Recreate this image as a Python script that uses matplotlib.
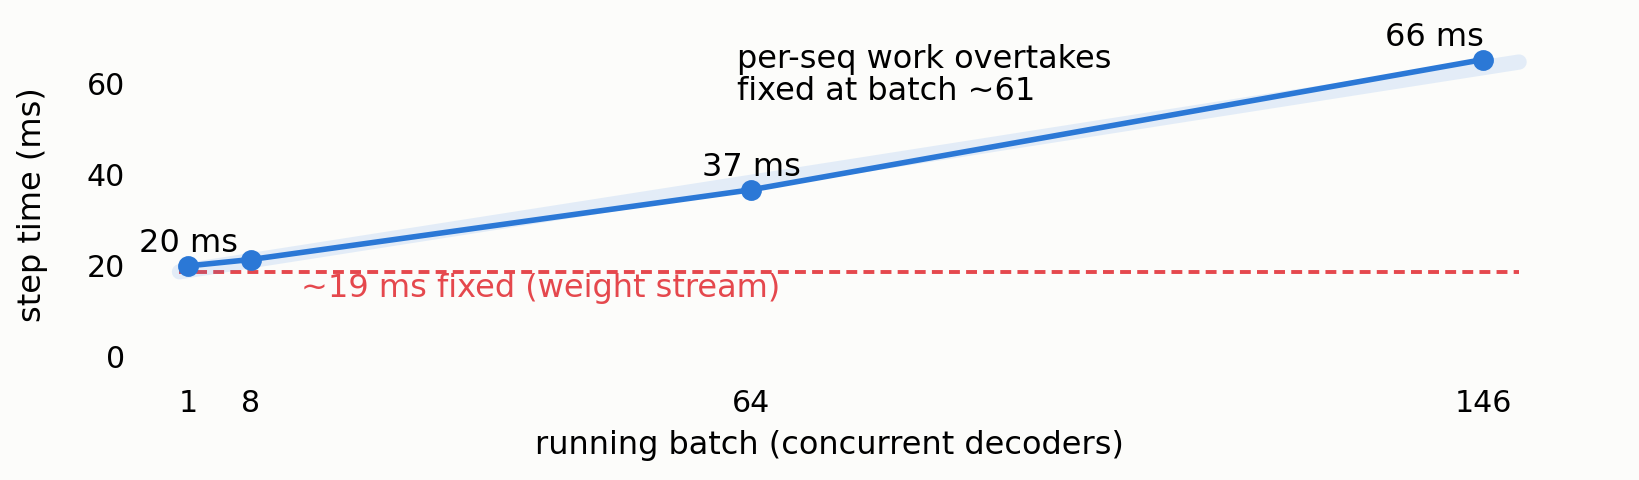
import numpy as np
import matplotlib
matplotlib.use("Agg")
import matplotlib.pyplot as plt

# measured step time vs running batch
batch = [1, 8, 64, 146]
step_ms = [20.0, 21.4, 36.7, 65.3]
labelled = [1, 64, 146]
point_labels = ["20 ms", "37 ms", "66 ms"]

# linear fit: fixed weight stream + per-sequence work
fixed_ms = 18.7
per_seq_ms = 0.307
fit_range = [0, 150]

x_ticks = [1, 8, 64, 146]
y_ticks = [0, 20, 40, 60]

bg = "#fcfcfa"
blue = "#2b78d6"
red = "#e5484d"

plt.rcParams["font.family"] = "DejaVu Sans"
plt.rcParams["font.size"] = 11.5

xlo, xhi = -5, 150.5
fig = plt.figure(figsize=(8.2, 2.4), dpi=200, facecolor=bg)
left = 0.0822
px_per_unit = 8.931 / 1640
ax = fig.add_axes([left, 0.2088, (xhi - xlo) * px_per_unit, 0.9396 - 0.2088])
ax.set_facecolor(bg)

# fixed cost line
ax.plot(fit_range, [fixed_ms, fixed_ms], color=red, lw=1.4,
        dashes=(2.8, 1.6), zorder=1, clip_on=False)
ax.text(13.6, 13.2, "~19 ms fixed (weight stream)", color=red,
        ha="left", va="baseline")

# fitted trend band
fx = np.array(fit_range)
ax.plot(fx, fixed_ms + per_seq_ms * fx, color="#2f80e8", alpha=0.12, lw=5.5,
        solid_capstyle="round", zorder=2, clip_on=False)

# measurements
ax.plot(batch, step_ms, color=blue, lw=2, marker="o", ms=6.5, zorder=3)
pts = [(b, v) for b, v in zip(batch, step_ms) if b in labelled]
for (b, v), lab in zip(pts, point_labels):
    ha = "right" if b == batch[-1] else "center"
    ax.annotate(lab, (b, v), xytext=(0, 5),
                textcoords="offset points", ha=ha, va="baseline")

ax.text(62.4, 56.4, "per-seq work overtakes\nfixed at batch ~61",
        ha="left", va="baseline", linespacing=1.05)

ax.set_xlim(xlo, xhi)
ax.set_ylim(-5, 72)
ax.set_xticks(x_ticks)
ax.set_yticks(y_ticks)
ax.tick_params(length=0, labelsize=10.8)
for s in ax.spines.values():
    s.set_visible(False)
ax.set_xlabel("running batch (concurrent decoders)")
ax.set_ylabel("step time (ms)", labelpad=14)

fig.savefig("out.png", dpi=200, facecolor=bg)
